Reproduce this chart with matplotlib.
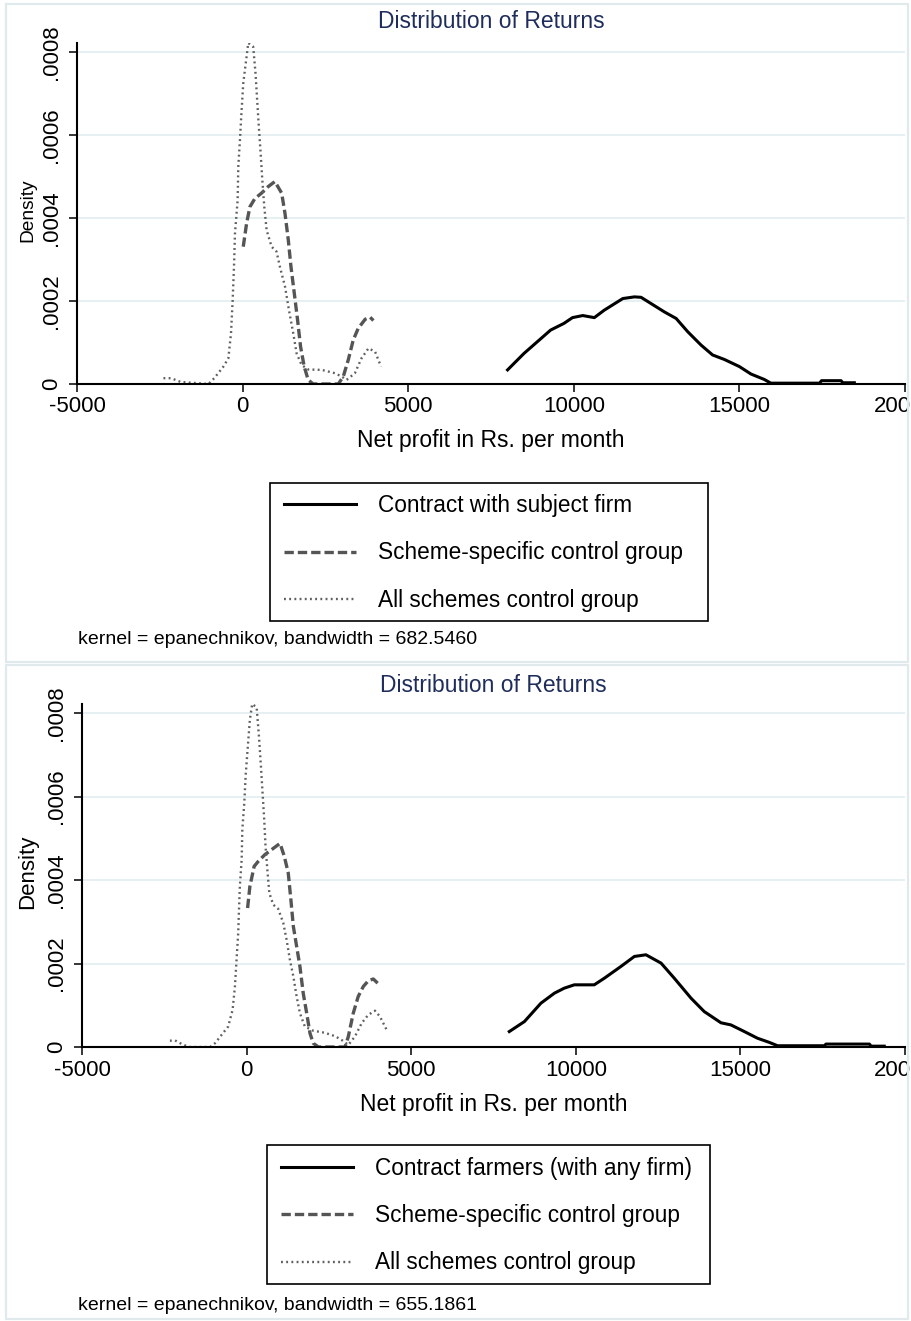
import matplotlib
matplotlib.use("Agg")
from matplotlib import pyplot as plt
from matplotlib.patches import Rectangle
from matplotlib.lines import Line2D

plt.rcParams["font.family"] = ["Liberation Sans", "DejaVu Sans"]

# x ticks / y ticks
x_ticks = [-5000, 0, 5000, 10000, 15000, 20000]
y_ticks = [0, 0.0002, 0.0004, 0.0006, 0.0008]
y_tick_labels = ["0", ".0002", ".0004", ".0006", ".0008"]

# ---- top panel: contract with subject firm ----
top_solid_x = [8000, 8500, 8900, 9300, 9700, 9960, 10270, 10620, 10920, 11220,
               11480, 11830, 12030, 12330, 12730, 13090, 13440, 13840, 14190,
               14550, 15000, 15350, 15750, 15950, 17420, 17480, 18070, 18120, 18470]
top_solid_y = [3.4e-5, 7.4e-5, 1.02e-4, 1.30e-4, 1.46e-4, 1.60e-4, 1.65e-4, 1.60e-4,
               1.78e-4, 1.93e-4, 2.06e-4, 2.10e-4, 2.09e-4, 1.94e-4, 1.74e-4, 1.58e-4,
               1.26e-4, 9.4e-5, 7.0e-5, 5.9e-5, 4.2e-5, 2.4e-5, 1.1e-5, 2e-6, 2e-6,
               8e-6, 8e-6, 3e-6, 3e-6]

top_dash_x = [20, 120, 220, 370, 570, 775, 975, 1180, 1280, 1380, 1460, 1560, 1660,
              1750, 1860, 1980, 2130, 2890, 3040, 3190, 3340, 3490, 3700, 3850, 3950]
top_dash_y = [3.31e-4, 3.87e-4, 4.27e-4, 4.47e-4, 4.60e-4, 4.76e-4, 4.88e-4, 4.60e-4,
              4.11e-4, 3.47e-4, 2.83e-4, 2.19e-4, 1.54e-4, 9.0e-5, 4.2e-5, 1.0e-5, 0,
              0, 1.8e-5, 5.8e-5, 1.06e-4, 1.34e-4, 1.56e-4, 1.61e-4, 1.53e-4]

top_dot_x = [-2390, -2160, -1870, -1030, -845, -580, -430, -350, -300, -260, -230,
             -150, -130, -80, -30, 20, 120, 170, 320, 390, 440, 490, 545, 595, 655,
             725, 875, 1025, 1125, 1280, 1400, 1530, 1630, 1780, 1980, 2390, 2790,
             2990, 3140, 3390, 3590, 3800, 4000, 4180]
top_dot_y = [1.4e-5, 1.4e-5, 5e-6, 0, 1.5e-5, 4.2e-5, 6.2e-5, 1.22e-4, 2.02e-4,
             2.83e-4, 3.63e-4, 4.43e-4, 5.24e-4, 5.88e-4, 6.60e-4, 7.25e-4, 7.89e-4,
             8.22e-4, 8.13e-4, 7.49e-4, 6.84e-4, 6.20e-4, 5.56e-4, 4.92e-4, 4.27e-4,
             3.71e-4, 3.31e-4, 3.19e-4, 2.83e-4, 2.35e-4, 1.78e-4, 1.22e-4, 7.4e-5,
             4.6e-5, 3.5e-5, 3.4e-5, 2.6e-5, 1.8e-5, 1.0e-5, 2.6e-5, 6.2e-5, 8.6e-5,
             7.8e-5, 4.2e-5]

# ---- bottom panel: contract farmers (any firm) ----
bot_solid_x = [7980, 8440, 8940, 9350, 9650, 9955, 10560, 10870, 11370, 11780, 12130,
               12590, 12990, 13500, 13900, 14410, 14710, 15120, 15520, 15880, 16130,
               17550, 17600, 18920, 18970, 19370]
bot_solid_y = [3.7e-5, 6.1e-5, 1.05e-4, 1.29e-4, 1.41e-4, 1.49e-4, 1.49e-4, 1.65e-4,
               1.93e-4, 2.17e-4, 2.21e-4, 2.01e-4, 1.65e-4, 1.17e-4, 8.5e-5, 5.8e-5,
               5.3e-5, 3.7e-5, 2.1e-5, 1.1e-5, 3e-6, 3e-6, 7e-6, 7e-6, 2e-6, 2e-6]

bot_dash_x = [30, 100, 230, 355, 555, 760, 1015, 1145, 1265, 1345, 1420, 1520, 1620,
              1720, 1825, 1925, 2025, 2180, 2990, 3090, 3240, 3390, 3545, 3700, 3850, 3980]
bot_dash_y = [3.33e-4, 3.85e-4, 4.33e-4, 4.45e-4, 4.61e-4, 4.73e-4, 4.88e-4, 4.57e-4,
              4.17e-4, 3.53e-4, 2.89e-4, 2.41e-4, 1.93e-4, 1.29e-4, 8.1e-5, 3.3e-5,
              9e-6, 0, 0, 2.5e-5, 8.1e-5, 1.21e-4, 1.45e-4, 1.59e-4, 1.63e-4, 1.53e-4]

bot_dot_x = [-2330, -2180, -1920, -1720, -1110, -960, -760, -560, -425, -355, -305,
             -255, -235, -205, -150, -130, -70, -30, 30, 100, 170, 305, 375, 435, 485,
             535, 575, 630, 690, 810, 960, 1115, 1215, 1315, 1420, 1520, 1620, 1770,
             2025, 2380, 2685, 2885, 3090, 3290, 3495, 3695, 3900, 4050, 4255]
bot_dot_y = [1.5e-5, 1.6e-5, 5e-6, 0, 0, 9e-6, 2.9e-5, 4.9e-5, 8.9e-5, 1.45e-4,
             2.09e-4, 2.73e-4, 3.21e-4, 3.85e-4, 4.49e-4, 5.21e-4, 5.85e-4, 6.49e-4,
             7.13e-4, 7.85e-4, 8.22e-4, 8.14e-4, 7.45e-4, 6.73e-4, 6.09e-4, 5.45e-4,
             4.81e-4, 4.25e-4, 3.69e-4, 3.41e-4, 3.31e-4, 2.97e-4, 2.57e-4, 2.09e-4,
             1.69e-4, 1.21e-4, 8.1e-5, 4.9e-5, 3.9e-5, 3.4e-5, 2.6e-5, 1.7e-5, 5e-6,
             2.5e-5, 5.7e-5, 7.7e-5, 8.7e-5, 7.3e-5, 4.1e-5]

labels_top = ["Contract with subject firm", "Scheme-specific control group",
              "All schemes control group"]
labels_bot = ["Contract farmers (with any firm)", "Scheme-specific control group",
              "All schemes control group"]
kernel_top = "kernel = epanechnikov, bandwidth = 682.5460"
kernel_bot = "kernel = epanechnikov, bandwidth = 655.1861"

W, H = 912, 1321
fig = plt.figure(figsize=(W / 100, H / 100), dpi=100)

TITLE_COLOR = "#1e2d5c"
GRID_COLOR = "#e4eef0"
DASH_COLOR = "#555555"
DOT_COLOR = "#606060"


def fx(px):
    return px / W


def fy(py):
    return 1 - py / H


def draw_panel(box, ax_box, solid, dash, dot, labels, kernel, ylab_size, title_py,
               xlab_py, leg_box, kernel_py):
    # panel frame
    x0, y0, x1, y1 = box
    fig.patches.append(Rectangle((fx(x0), fy(y1)), fx(x1 - x0), (y1 - y0) / H,
                                 transform=fig.transFigure, fill=False,
                                 edgecolor="#e0e9ec", lw=1.6))
    l, t, r, b = ax_box
    ax = fig.add_axes([fx(l), fy(b), fx(r - l), (b - t) / H])
    ax.plot(solid[0], solid[1], color="black", lw=2.2, solid_joinstyle="round")
    ax.plot(dash[0], dash[1], color=DASH_COLOR, lw=2.4, dashes=(2.8, 1.2))
    ax.plot(dot[0], dot[1], color=DOT_COLOR, lw=1.7, linestyle=(0, (0.8, 1.4)))

    ax.set_xlim(-5000, 20000)
    ax.set_ylim(0, 0.000822)
    ax.set_xticks(x_ticks)
    ax.set_xticklabels([str(v) for v in x_ticks])
    ax.set_yticks(y_ticks)
    ax.set_yticklabels(y_tick_labels, rotation=90, va="center")
    ax.tick_params(axis="both", labelsize=16, length=6, width=1.1, direction="out",
                   color="black")
    ax.tick_params(axis="y", pad=5)
    ax.tick_params(axis="x", pad=3)
    for s in ["top", "right"]:
        ax.spines[s].set_visible(False)
    for s in ["left", "bottom"]:
        ax.spines[s].set_linewidth(1.5)
    ax.yaxis.grid(True, color=GRID_COLOR, lw=1.3)
    ax.set_axisbelow(True)
    for tl in ax.get_xticklabels():
        tl.set_clip_on(False)

    ax.set_ylabel("Density", fontsize=ylab_size)
    ax.yaxis.set_label_coords((28 - l) / (r - l), 0.51)
    ax.yaxis.label.set_va("center")

    ax.set_xlabel("Net profit in Rs. per month", fontsize=16.5)
    ax.xaxis.set_label_coords(0.5, (b - xlab_py) / (b - t))
    ax.xaxis.label.set_va("center")

    fig.text(fx((l + r) / 2), fy(title_py), "Distribution of Returns", color=TITLE_COLOR,
             fontsize=16.5, ha="center", va="center")

    # legend
    lx0, ly0, lx1, ly1 = leg_box
    fig.patches.append(Rectangle((fx(lx0), fy(ly1)), fx(lx1 - lx0), (ly1 - ly0) / H,
                                 transform=fig.transFigure, fill=False,
                                 edgecolor="black", lw=1.2))
    handles = [Line2D([], [], color="black", lw=2.2),
               Line2D([], [], color=DASH_COLOR, lw=2.4, dashes=(2.8, 1.2)),
               Line2D([], [], color=DOT_COLOR, lw=1.7, linestyle=(0, (0.8, 1.4)))]
    fig.legend(handles, labels, loc="center left",
               bbox_to_anchor=(fx(lx0), fy((ly0 + ly1) / 2 + 1)),
               frameon=False, fontsize=16.3, handlelength=3.2, handletextpad=0.95,
               labelspacing=1.08, borderpad=0.6, borderaxespad=0)

    fig.text(fx(78), fy(kernel_py), kernel, fontsize=14, ha="left", va="center")
    return ax


draw_panel((6, 4, 908, 662), (77, 43, 905, 384),
           (top_solid_x, top_solid_y), (top_dash_x, top_dash_y),
           (top_dot_x, top_dot_y), labels_top, kernel_top, 13.8,
           22, 440, (270, 483, 708, 621), 640)

draw_panel((6, 665, 908, 1319), (82, 704, 905, 1047),
           (bot_solid_x, bot_solid_y), (bot_dash_x, bot_dash_y),
           (bot_dot_x, bot_dot_y), labels_bot, kernel_bot, 16,
           686, 1104, (267, 1145, 710, 1284), 1306)

fig.savefig("out.png", dpi=100)
